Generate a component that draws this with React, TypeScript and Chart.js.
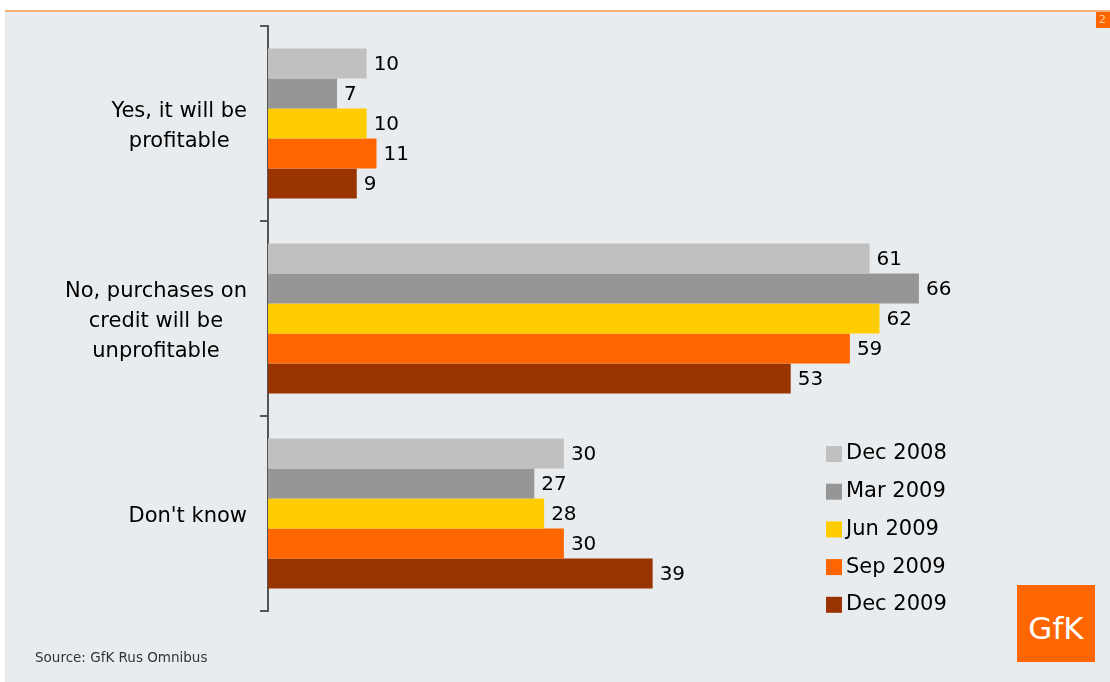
import React, { useEffect, useRef } from "react";
import { Chart, registerables } from "chart.js";

Chart.register(...registerables);

const categories: string[][] = [
  ["Yes, it will be", "profitable"],
  ["No, purchases on", "credit will be", "unprofitable"],
  ["Don't know"],
];
const seriesNames = ["Dec 2008", "Mar 2009", "Jun 2009", "Sep 2009", "Dec 2009"];
const seriesColors = ["#c0c0c0", "#969696", "#ffcc00", "#ff6600", "#993300"];
const dec2008 = [10, 61, 30];
const mar2009 = [7, 66, 27];
const jun2009 = [10, 62, 28];
const sep2009 = [11, 59, 30];
const dec2009 = [9, 53, 39];
const seriesValues = [dec2008, mar2009, jun2009, sep2009, dec2009];

const FONT = "'DejaVu Sans', Verdana, sans-serif";

const labelsPlugin = {
  id: "customLabels",
  afterDraw(chart: any) {
    const ctx = chart.ctx;
    const area = chart.chartArea;
    const yScale = chart.scales.y;
    ctx.save();
    // category labels
    ctx.font = `21px ${FONT}`;
    ctx.fillStyle = "#000";
    ctx.textBaseline = "middle";
    ctx.textAlign = "center";
    categories.forEach((lines, i) => {
      const cy = yScale.getPixelForValue(i) + 3;
      const maxW = Math.max(...lines.map((l) => ctx.measureText(l).width));
      const right = area.left - 21;
      const cx = right - maxW / 2;
      lines.forEach((line, j) => {
        ctx.fillText(line, cx, cy + (j - (lines.length - 1) / 2) * 30);
      });
    });
    // value labels
    ctx.font = `20px ${FONT}`;
    ctx.textAlign = "left";
    chart.data.datasets.forEach((ds: any, di: number) => {
      const meta = chart.getDatasetMeta(di);
      meta.data.forEach((el: any, k: number) => {
        ctx.fillText(String(ds.data[k]), el.x + 7, el.y + 1);
      });
    });
    // legend
    ctx.font = `21px ${FONT}`;
    chart.data.datasets.forEach((ds: any, di: number) => {
      const y = 454 + di * 37.7;
      ctx.fillStyle = ds.backgroundColor;
      ctx.fillRect(826, y - 8, 16, 16);
      ctx.fillStyle = "#000";
      ctx.fillText(ds.label, 846, y);
    });
    ctx.restore();
  },
};

export default function App() {
  const ref = useRef<HTMLCanvasElement>(null);
  useEffect(() => {
    if (!ref.current) return;
    const chart = new Chart(ref.current, {
      type: "bar",
      data: {
        labels: categories.map((c) => c.join(" ")),
        datasets: seriesNames.map((name, i) => ({
          label: name,
          data: seriesValues[i],
          backgroundColor: seriesColors[i],
          borderWidth: 0,
          categoryPercentage: 0.77,
          barPercentage: 1,
        })),
      },
      options: {
        indexAxis: "y",
        responsive: false,
        animation: false,
        layout: { padding: { left: 0, right: 53, top: 26, bottom: 71 } },
        plugins: { legend: { display: false }, tooltip: { enabled: false } },
        scales: {
          x: { display: false, min: 0, max: 80 },
          y: {
            afterFit: (scale: any) => {
              scale.width = 268;
            },
            ticks: { display: false },
            grid: {
              drawOnChartArea: false,
              drawTicks: true,
              tickLength: 8,
              color: "#555",
              lineWidth: 2,
              offset: true,
            },
            border: { display: true, color: "#555", width: 2 },
          },
        },
      },
      plugins: [labelsPlugin],
    });
    return () => chart.destroy();
  }, []);

  return (
    <div
      style={{
        position: "absolute",
        left: 0,
        top: 0,
        width: 1110,
        height: 682,
        background: "#ffffff",
        overflow: "hidden",
        fontFamily: FONT,
      }}
    >
      <div
        style={{
          position: "absolute",
          left: 5,
          top: 12,
          width: 1105,
          height: 670,
          background: "#e9ecee",
        }}
      />
      <div
        style={{
          position: "absolute",
          left: 5,
          top: 10,
          width: 1105,
          height: 2,
          background: "#f2b27a",
        }}
      />
      <div
        style={{
          position: "absolute",
          left: 1096,
          top: 12,
          width: 14,
          height: 16,
          background: "#ff6600",
          color: "#ffd0a0",
          fontSize: 11,
          lineHeight: "16px",
          paddingLeft: 3,
          boxSizing: "border-box",
        }}
      >
        2
      </div>
      <canvas
        ref={ref}
        width={1110}
        height={682}
        style={{ position: "absolute", left: 0, top: 0 }}
      />
      <div
        style={{
          position: "absolute",
          left: 35,
          top: 649,
          fontSize: 13.5,
          color: "#333",
          whiteSpace: "nowrap",
        }}
      >
        Source: GfK Rus Omnibus
      </div>
      <div
        style={{
          position: "absolute",
          left: 1017,
          top: 585,
          width: 78,
          height: 77,
          background: "#ff6600",
          color: "#ffffff",
          fontSize: 31,
          display: "flex",
          alignItems: "center",
          justifyContent: "center",
          paddingTop: 8,
          boxSizing: "border-box",
        }}
      >
        GfK
      </div>
    </div>
  );
}
